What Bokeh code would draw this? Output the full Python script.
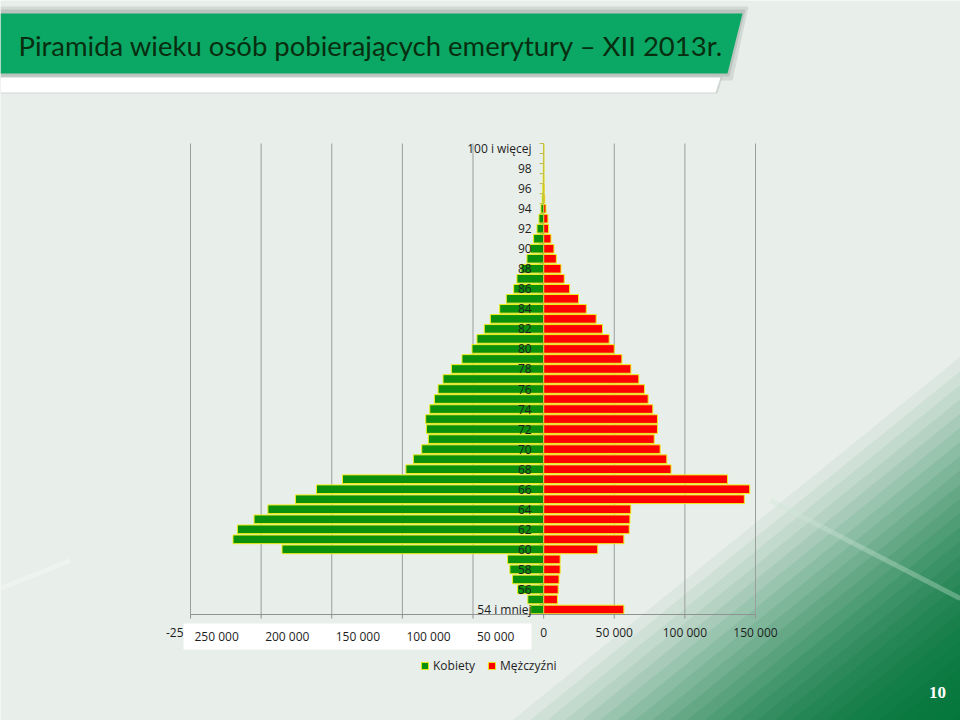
from bokeh.plotting import figure
from bokeh.models import Range1d, ColumnDataSource, Legend, LegendItem
from bokeh.core.properties import value
from bokeh.embed import file_html
from bokeh.resources import INLINE

# ---------------- data ----------------
age_groups = ["54 i mniej", "55", "56", "57", "58", "59", "60", "61", "62", "63",
              "64", "65", "66", "67", "68", "69", "70", "71", "72", "73",
              "74", "75", "76", "77", "78", "79", "80", "81", "82", "83",
              "84", "85", "86", "87", "88", "89", "90", "91", "92", "93",
              "94", "95", "96", "97", "98", "99", "100 i więcej"]

kobiety = [9200, 11200, 18500, 22000, 23900, 25500, 185200, 219900, 216800, 205000,
           195200, 175700, 160800, 142400, 97500, 92200, 86300, 81600, 83000, 83500,
           80600, 77300, 74700, 71200, 65300, 57800, 50700, 47200, 42000, 37700,
           31100, 26400, 21200, 18900, 16000, 11800, 9400, 7100, 4700, 3300,
           1900, 1000, 600, 350, 200, 100, 100]

mezczyzni = [56800, 9800, 10300, 10900, 11700, 11700, 38300, 56800, 60600, 61100,
             61700, 142100, 145900, 130200, 90200, 87200, 82500, 78300, 80600, 80600,
             77300, 74000, 71400, 67400, 61800, 55400, 50000, 46400, 41700, 37200,
             30200, 24750, 18400, 14600, 12300, 9000, 7300, 5200, 3500, 3050,
             1650, 800, 400, 250, 150, 80, 50]

x_ticks = [-250000, -200000, -150000, -100000, -50000, 0, 50000, 100000, 150000]
right_tick_labels = ["0", "50 000", "100 000", "150 000"]
left_tick_labels = ["250 000", "200 000", "150 000", "100 000", "50 000"]

title_text = "Piramida wieku osób pobierających emerytury – XII 2013r."
series_names = ["Kobiety", "Mężczyźni"]
page_number = "10"

# ---------------- layout (page pixels) ----------------
W, H = 960, 720
PAGE = 0
PL, PR, PT, PB = 190, 755, 143, 614      # plot area in page px
X_MIN, X_MAX = x_ticks[0], x_ticks[-1]
kx = (PR - PL) / (X_MAX - X_MIN)
n = len(age_groups)
rowpx = (PB - PT) / n

x_range = Range1d(X_MIN - (PL - PAGE) / kx, X_MIN + (PAGE + W - PL) / kx)
y_range = Range1d(-0.5 - (PAGE + H - PB) / rowpx, n - 0.5 + (PT - PAGE) / rowpx)

FONT = value("Open Sans")
GREEN = "#0B900B"
RED = "#FF0000"
EDGE = "#EEEE1A"
BG = "#E8EEEA"

p = figure(width=W, height=H, x_range=x_range, y_range=y_range,
           x_axis_type=None, y_axis_type=None, min_border=0,
           toolbar_location=None, output_backend="svg",
           background_fill_color=BG, border_fill_color=BG,
           outline_line_color=None)
p.extra_x_ranges = {"px": Range1d(PAGE, PAGE + W)}
p.extra_y_ranges = {"px": Range1d(PAGE + H, PAGE)}
PX = dict(x_range_name="px", y_range_name="px")

# ---------------- slide background (stepped diagonal gradient) ----------------
nx, ny = 0.63, 0.776
for j in range(26):
    d = 20 + 11 * j
    xb = min(480 + d / nx, 960)
    yr = 720 + (d - 302.4) / ny
    al = 0.05 + 0.006 * j
    p.patch([xb, 960, 960], [720, yr, 720],
            fill_color="#00743A", fill_alpha=al, line_color=None, **PX)
p.line([770, 960], [500, 598], line_color="#CFE8D8", line_alpha=0.35, line_width=5, **PX)
p.line([0, 70], [588, 560], line_color="#FFFFFF", line_alpha=0.3, line_width=5, **PX)

# title banner
p.patch([0, 748, 732, 0], [6, 6, 80, 80], fill_color="#8A948E", fill_alpha=0.22, line_color=None, **PX)
p.patch([0, 745, 729, 0], [9, 9, 76, 76], fill_color="#8A948E", fill_alpha=0.32, line_color=None, **PX)
p.patch([0, 742, 727, 0], [13, 13, 73, 73], fill_color="#0BA865", line_color=None, **PX)
p.patch([0, 722, 717, 0], [76, 76, 93, 93], fill_color="#B8C0BB", fill_alpha=0.5, line_color=None, **PX)
p.patch([0, 720, 715, 0], [77, 77, 92, 92], fill_color="#FFFFFF", line_color=None, **PX)
p.text(x=[18], y=[45], text=[title_text], text_font=value("Lato"), text_font_size="27.5px",
       text_color="#082E10", text_baseline="middle", text_align="left", **PX)

# ---------------- chart ----------------
idx = list(range(n))
src = ColumnDataSource(dict(y=idx, k_left=[-v for v in kobiety], m_right=mezczyzni))

# gridlines
p.segment(x0=x_ticks, y0=[-0.5] * len(x_ticks), x1=x_ticks, y1=[n - 0.5] * len(x_ticks),
          line_color="#9A9E9C", line_width=1)

rk = p.hbar(y="y", left="k_left", right=0, height=0.86, source=src,
            fill_color=GREEN, line_color=EDGE, line_width=1)
rm = p.hbar(y="y", left=0, right="m_right", height=0.86, source=src,
            fill_color=RED, line_color=EDGE, line_width=1)

# category axis at zero
tick_len = 4 / kx
bounds = [i + 0.5 for i in range(-1, n)]
p.segment(x0=[0] * len(bounds), y0=bounds, x1=[-tick_len] * len(bounds), y1=bounds,
          line_color="#C2BD45", line_width=1)
p.segment(x0=[0], y0=[-0.5], x1=[0], y1=[n - 0.5], line_color="#C2BD45", line_width=1)

# bottom value axis
p.segment(x0=[X_MIN], y0=[-0.5], x1=[X_MAX], y1=[-0.5], line_color="#8E9290", line_width=1)
p.segment(x0=x_ticks, y0=[PB] * len(x_ticks), x1=x_ticks, y1=[PB + 4] * len(x_ticks),
          line_color="#8E9290", line_width=1, y_range_name="px")

# category labels (every second)
lab_y = [i for i in idx if i % 2 == 0]
lab_t = [age_groups[i] for i in lab_y]
p.text(x=[0] * len(lab_y), y=lab_y, text=lab_t, x_offset=-12, text_font=FONT,
       text_font_size="12px", text_color="#1E1E1E", text_align="right",
       text_baseline="middle")

# value labels: right side centred on ticks
pos_ticks = [t for t in x_ticks if t >= 0]
p.text(x=pos_ticks, y=[632] * len(pos_ticks), text=right_tick_labels, text_font=FONT,
       text_font_size="12px", text_color="#1E1E1E", text_align="center",
       text_baseline="middle", y_range_name="px")
# left side: white box with typed-over labels
p.text(x=[183], y=[632], text=["-25"], text_font=FONT, text_font_size="12px",
       text_color="#1E1E1E", text_align="right", text_baseline="middle", **PX)
p.quad(left=[183], right=[531], top=[623], bottom=[649], fill_color="#FFFFFF",
       line_color=None, **PX)
neg_ticks = [t for t in x_ticks if t < 0]
p.text(x=neg_ticks, y=[636] * len(neg_ticks), text=left_tick_labels, x_offset=4,
       text_font=FONT, text_font_size="12px", text_color="#1E1E1E", text_align="left",
       text_baseline="middle", y_range_name="px")

# legend
legend = Legend(items=[LegendItem(label=series_names[0], renderers=[rk]),
                       LegendItem(label=series_names[1], renderers=[rm])],
                orientation="horizontal", location=(420, 46),
                glyph_width=9, glyph_height=9, label_standoff=4, spacing=12,
                padding=0, margin=0, background_fill_alpha=0, border_line_alpha=0,
                label_text_font="Open Sans", label_text_font_size="12px",
                label_text_color="#1E1E1E", label_height=14)
p.add_layout(legend)

# page number
p.text(x=[937], y=[692], text=[page_number], text_font=value("Liberation Serif"),
       text_font_style="bold", text_font_size="17px", text_color="#FFFFFF",
       text_align="center", text_baseline="middle", **PX)

open("out.html", "w").write(file_html(p, INLINE))
